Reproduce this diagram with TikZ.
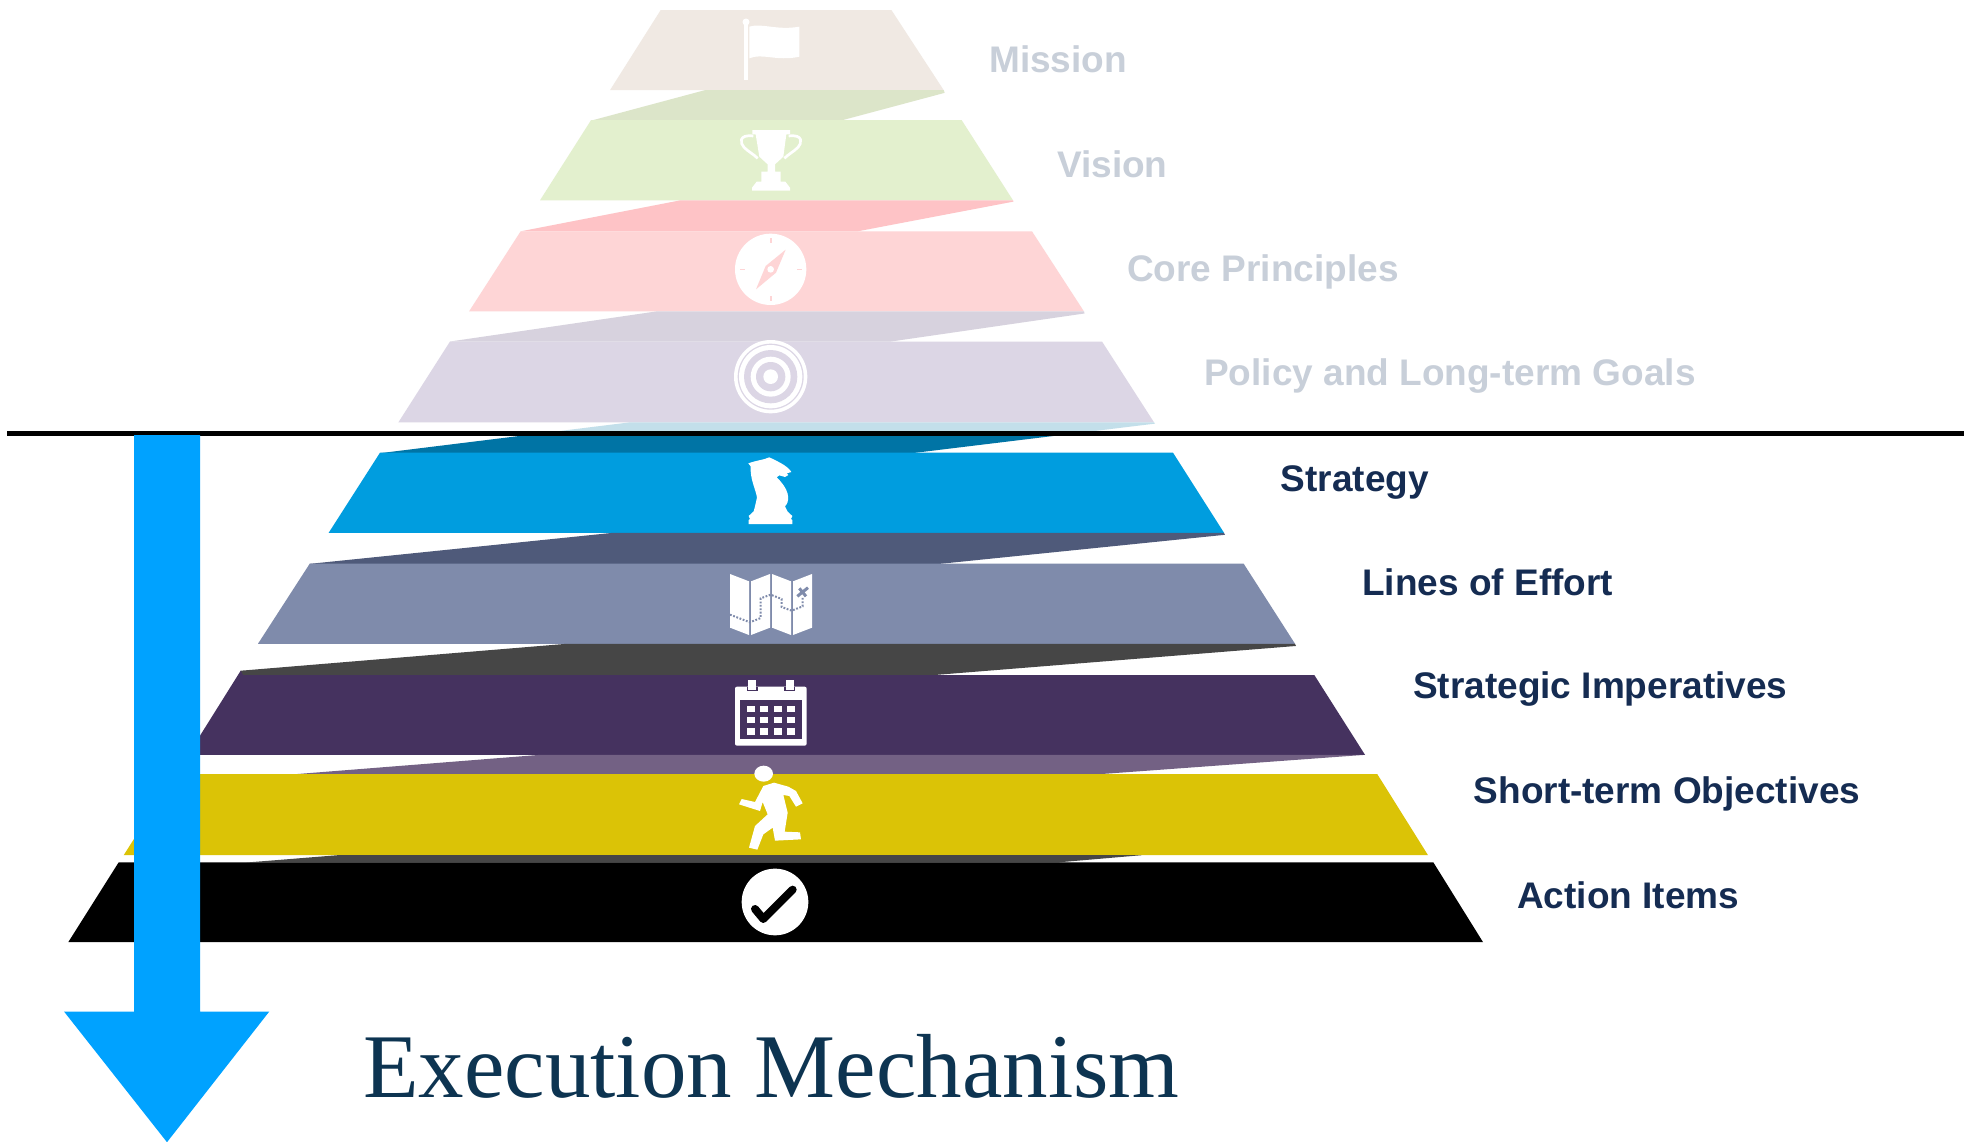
\documentclass[tikz,border=0pt]{standalone}
\usepackage{fontspec}
\setmainfont{Liberation Sans}
\newfontfamily\titlefont{Liberation Serif}
\definecolor{cMission}{HTML}{F0E9E3}
\definecolor{cVision}{HTML}{E3F0CE}
\definecolor{cCore}{HTML}{FED5D6}
\definecolor{cPolicy}{HTML}{DCD6E5}
\definecolor{cStrategy}{HTML}{009DDF}
\definecolor{cLines}{HTML}{7F8BAB}
\definecolor{cImper}{HTML}{45325F}
\definecolor{cShort}{HTML}{DBC306}
\definecolor{sVision}{HTML}{DCE5C9}
\definecolor{sCore}{HTML}{FEC3C6}
\definecolor{sPolicy}{HTML}{D7D2DE}
\definecolor{sStratLight}{HTML}{C3DFEA}
\definecolor{sStrat}{HTML}{0074A5}
\definecolor{sLines}{HTML}{4F5A7A}
\definecolor{sGrey}{HTML}{464646}
\definecolor{sShort}{HTML}{736184}
\definecolor{labelDark}{HTML}{152C52}
\definecolor{labelFaint}{HTML}{C8CFD9}
\definecolor{titleBlue}{HTML}{0D3451}
\definecolor{arrowBlue}{HTML}{00A2FF}
\tikzset{
  labeltext/.style={anchor=base west,inner sep=0pt,font=\fontsize{37}{40}\selectfont\bfseries},
  faint/.style={labeltext,text=labelFaint},
  dark/.style={labeltext,text=labelDark},
  iconscope/.style={x=.33333pt,y=-.33333pt}
}
\begin{document}
\begin{tikzpicture}[x=1pt,y=-1.0015pt]
\useasboundingbox (0,0) rectangle (1973,1139.3);
\fill[white] (0,0) rectangle (1973,1139.3);
% shadows and tiers
\fill[cMission] (660.7,10)--(891.4,10)--(943.7,90)--(610,90)--cycle;
\fill[sVision] (705,90)--(943.7,90)--(944.7,92.7)--(840.5,120.5)--(591,120.5)--cycle;
\fill[cVision] (591,120)--(961.7,120)--(1013,200)--(540,200)--cycle;
\fill[sCore] (680.5,200)--(1013,200)--(1013.5,201.3)--(857.5,231)--(520.6,231)--cycle;
\fill[cCore] (520.6,231)--(1032,231)--(1084,311)--(469,311)--cycle;
\fill[sPolicy] (656,311)--(1084,311)--(1084.5,313)--(891,341)--(450,341)--cycle;
\fill[cPolicy] (450,341)--(1102,341)--(1154,421.7)--(398.4,421.7)--cycle;
\begin{scope}
\clip (0,0) rectangle (1973,432);
\fill[sStratLight] (630,421.7)--(1154,421.7)--(1155,423)--(912,452.5)--(380,452.5)--cycle;
\end{scope}
\begin{scope}
\clip (0,432) rectangle (1973,1139.3);
\fill[sStrat] (630,421.7)--(1154,421.7)--(1155,423)--(912,452.5)--(380,452.5)--cycle;
\end{scope}
\fill[cStrategy] (380,452)--(1173,452)--(1224,532)--(328.7,532)--cycle;
\fill[sLines] (613,532)--(1224,532)--(1225,534)--(940,563)--(309.7,563)--cycle;
\fill[cLines] (309.7,562.9)--(1243.7,562.9)--(1295,642.8)--(258,642.8)--cycle;
\fill[sGrey] (567,642.8)--(1295,642.8)--(1296,645)--(932,674.2)--(240.7,674.2)--(240.7,669.7)--cycle;
\fill[cImper] (240.7,669.7)--(243,674)--(1314.3,674)--(1365,753.7)--(188,753.7)--cycle;
\fill[sShort] (540,753.7)--(1365,753.7)--(1097,773.2)--(293,773.2)--cycle;
\fill[cShort] (175,773)--(1377.3,773)--(1428,853.9)--(123.7,853.9)--cycle;
\fill[sGrey] (338,853.9)--(1141.7,853.9)--(1056.7,861.2)--(246.7,861.2)--cycle;
\fill[black] (118.7,861)--(1433.3,861)--(1483,940.7)--(68.3,940.7)--cycle;
% flag
\begin{scope}[shift={(720,10)},iconscope]
\fill[white] (73,32) rectangle (83,210);
\fill[white] (78,36) circle (10.5);
\fill[white] (88,50) .. controls (125,38) and (170,62) .. (238,50) -- (238,140) .. controls (170,155) and (125,128) .. (88,145) -- cycle;
% trophy
\fill[white] (97,360)--(210,360)--(210,373)--(199,373)--(190,440)--(165,463)--(165,485)--(182,485)--(182,515)--(196,515)--(210,533)--(210,542)--(96,542)--(96,533)--(110,515)--(124,515)--(124,485)--(143,485)--(143,463)--(118,440)--(107,373)--(97,373)--cycle;
\draw[white,line width=2.7pt] (100,378) .. controls (55,372) and (60,400) .. (72,412) .. controls (85,425) and (100,432) .. (113,445);
\draw[white,line width=2.7pt] (206,378) .. controls (251,372) and (246,400) .. (234,412) .. controls (221,425) and (206,432) .. (193,445);
\end{scope}
% compass and target
\begin{scope}[shift={(720,225)},iconscope]
\fill[white] (152,132) circle (107);
\fill[cCore] (149.5,38) rectangle (154.5,54);
\fill[cCore] (149.5,211) rectangle (154.5,226);
\fill[cCore] (60,129.5) rectangle (74,134.5);
\fill[cCore] (231,129.5) rectangle (246,134.5);
\fill[cCore] (197,73)--(137,122)--(108,192)--(168,142)--cycle;
\fill[white] (152,132) circle (10);
\fill[white] (152,454) circle (110);
\fill[cPolicy] (152,454) circle (99);
\fill[white] (152,454) circle (95);
\fill[cPolicy] (152,454) circle (80);
\fill[white] (152,454) circle (60);
\fill[cPolicy] (152,454) circle (44);
\fill[white] (152,454) circle (22);
\end{scope}
% knight
\begin{scope}[shift={(735,450)},iconscope]
\fill[white,line join=round] (41,220)--(172,220)--(172,208)--(168,205)--(172,196)--(158,183)--(150,167)--(154,162) .. controls (165,145) and (162,115) .. (125,80) -- (133,74) -- (150,79) -- (160,73) -- (155,68) -- (169,64) .. controls (160,48) and (135,35) .. (103,20) .. controls (85,28) and (60,30) .. (40,38) -- (47,47) .. controls (45,85) and (60,110) .. (66,140) -- (60,167) -- (56,182) -- (41,196) -- (45,205) -- (41,208) -- cycle;
\end{scope}
% map
\begin{scope}[shift={(720,445)},iconscope]
\fill[white] (30,385)--(87,407)--(87,568)--(30,546)--cycle;
\fill[white] (93,407)--(150,385)--(150,546)--(93,568)--cycle;
\fill[white] (156,385)--(213,407)--(213,568)--(156,546)--cycle;
\fill[white] (219,407)--(276,385)--(276,546)--(219,568)--cycle;
\draw[cLines,line width=2pt,dash pattern=on 1.8pt off 1.6pt] (30,507)--(90,530)--(122,517)--(122,458)--(152,447)--(185,460)--(185,484)--(215,495)--(248,482)--(248,455);
\draw[cLines,line width=3pt] (232,452)--(264,426);
\draw[cLines,line width=3pt] (238,428)--(258,452);
\end{scope}
% calendar and runner
\begin{scope}[shift={(720,670)},iconscope]
\fill[white,rounded corners=2pt] (45,47) rectangle (260,224);
\fill[cImper] (60,87) rectangle (246,205);
\fill[cImper] (80,47) rectangle (114,61);
\fill[cImper] (192,47) rectangle (226,61);
\fill[white] (85,27) rectangle (109,56);
\fill[white] (197,27) rectangle (221,56);
\foreach \cx in {82,121,162,200}
  \foreach \cy in {105,138,172}
    \fill[white] (\cx,\cy) rectangle ++(24,19);
\fill[white] (131,308) ellipse [x radius=28,y radius=24];
\fill[white] (162,335)--(205,347)--(228,360)--(248,397)--(228,407)--(208,375)--(190,372)--(203,425)--(194,482)--(240,484)--(243,505)--(165,509)--(158,470)--(130,490)--(112,536)--(87,530)--(105,465)--(143,430)--(128,393)--(120,420)--(57,400)--(65,384)--(105,393)--(130,345)--cycle;
\end{scope}
% check
\begin{scope}[shift={(680,440)},iconscope]
\fill[white] (285,1384) circle (100);
\draw[black,line width=8pt,line cap=round,line join=round] (225,1405)--(250,1435)--(338,1347);
\end{scope}
% labels
\node[faint] (lMission) at (989,72.7) {Mission};
\node[faint] (lVision) at (1057,177.7) {Vision};
\node[faint] (lCore) at (1127,281.5) {Core Principles};
\node[faint] (lPolicy) at (1204,385.3) {Policy and Long-term Goals};
\node[dark] (lStrategy) at (1280.5,491) {Strategy};
\node[dark] (lLines) at (1362,594.7) {Lines of Effort};
\node[dark] (lImper) at (1413,697.7) {Strategic Imperatives};
\node[dark] (lShort) at (1473.5,802.5) {Short-term Objectives};
\node[dark] (lAction) at (1517,907) {Action Items};
\node[anchor=base west,inner sep=0pt,text=titleBlue,font=\titlefont\fontsize{91}{100}\selectfont] (title) at (363,1096) {Execution Mechanism};
% rule and arrow
\fill[black] (7,430) rectangle (1964,435);
\fill[arrowBlue] (134,434.5)--(200,434.5)--(200,1010)--(269.3,1010)--(167,1140.5)--(64,1010)--(134,1010)--cycle;
\end{tikzpicture}
\end{document}
